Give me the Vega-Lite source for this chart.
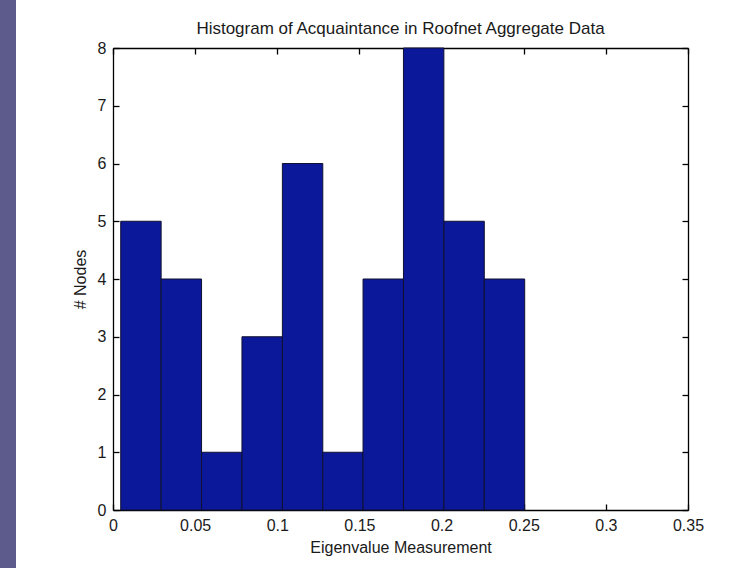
{
  "$schema": "https://vega.github.io/schema/vega-lite/v6.json",
  "autosize": "none",
  "width": 575,
  "height": 462,
  "padding": {"left": 113, "top": 48, "right": 56, "bottom": 58},
  "background": "#5c5b8b",
  "config": {
    "view": {"fill": "#ffffff", "stroke": "#ffffff", "strokeWidth": 194},
    "font": "Liberation Sans",
    "axis": {
      "domainColor": "#000000",
      "domainWidth": 1.3,
      "tickColor": "#000000",
      "tickWidth": 1.3,
      "tickSize": 6,
      "grid": false,
      "labelFont": "Liberation Sans",
      "labelFontSize": 16,
      "labelColor": "#1a1a1a",
      "labelFlush": false,
      "titleFont": "Liberation Sans",
      "titleFontSize": 16,
      "titleFontWeight": "normal",
      "titleColor": "#1a1a1a"
    }
  },
  "title": {
    "text": "Histogram of Acquaintance in Roofnet Aggregate Data",
    "font": "Liberation Sans",
    "fontSize": 17,
    "fontWeight": "normal",
    "color": "#1a1a1a",
    "offset": 2
  },
  "data": {
    "values": [
      {"bin_start": 0.0047, "bin_end": 0.0293, "count": 5},
      {"bin_start": 0.0293, "bin_end": 0.0539, "count": 4},
      {"bin_start": 0.0539, "bin_end": 0.0785, "count": 1},
      {"bin_start": 0.0785, "bin_end": 0.1031, "count": 3},
      {"bin_start": 0.1031, "bin_end": 0.1277, "count": 6},
      {"bin_start": 0.1277, "bin_end": 0.1522, "count": 1},
      {"bin_start": 0.1522, "bin_end": 0.1768, "count": 4},
      {"bin_start": 0.1768, "bin_end": 0.2014, "count": 8},
      {"bin_start": 0.2014, "bin_end": 0.2260, "count": 5},
      {"bin_start": 0.2260, "bin_end": 0.2506, "count": 4}
    ]
  },
  "encoding": {
    "x": {
      "field": "bin_start",
      "type": "quantitative",
      "scale": {"domain": [0, 0.35], "nice": false, "zero": false}
    },
    "x2": {"field": "bin_end"},
    "y": {
      "field": "count",
      "type": "quantitative",
      "scale": {"domain": [0, 8], "nice": false}
    },
    "y2": {"datum": 0}
  },
  "layer": [
    {
      "mark": {"type": "rect", "fill": "#0b1899", "stroke": "#101030", "strokeWidth": 1},
      "encoding": {
        "x": {
          "field": "bin_start",
          "type": "quantitative",
          "axis": {
            "orient": "bottom",
            "title": "Eigenvalue Measurement",
            "values": [0, 0.05, 0.1, 0.15, 0.2, 0.25, 0.3, 0.35],
            "format": ".2~f",
            "ticks": false,
            "labelPadding": 7,
            "titlePadding": 6
          }
        },
        "y": {
          "field": "count",
          "type": "quantitative",
          "axis": {
            "orient": "left",
            "title": "# Nodes",
            "values": [0, 1, 2, 3, 4, 5, 6, 7, 8],
            "ticks": false,
            "labelPadding": 7,
            "titlePadding": 9
          }
        }
      }
    },
    {
      "mark": {"type": "rect", "opacity": 0},
      "encoding": {
        "x": {
          "field": "bin_start",
          "type": "quantitative",
          "axis": {
            "orient": "top",
            "offset": -462,
            "title": null,
            "values": [0, 0.05, 0.1, 0.15, 0.2, 0.25, 0.3, 0.35],
            "labels": false,
            "domain": false
          }
        },
        "y": {
          "field": "count",
          "type": "quantitative",
          "axis": {
            "orient": "right",
            "offset": -575,
            "title": null,
            "values": [0, 1, 2, 3, 4, 5, 6, 7, 8],
            "labels": false,
            "domain": false
          }
        }
      }
    },
    {
      "mark": {"type": "rect", "opacity": 0},
      "encoding": {
        "x": {
          "field": "bin_start",
          "type": "quantitative",
          "axis": {
            "orient": "bottom",
            "offset": -462,
            "title": null,
            "values": [0, 0.05, 0.1, 0.15, 0.2, 0.25, 0.3, 0.35],
            "labels": false
          }
        },
        "y": {
          "field": "count",
          "type": "quantitative",
          "axis": {
            "orient": "left",
            "offset": -575,
            "title": null,
            "values": [0, 1, 2, 3, 4, 5, 6, 7, 8],
            "labels": false
          }
        }
      }
    }
  ],
  "resolve": {"axis": {"x": "independent", "y": "independent"}}
}
